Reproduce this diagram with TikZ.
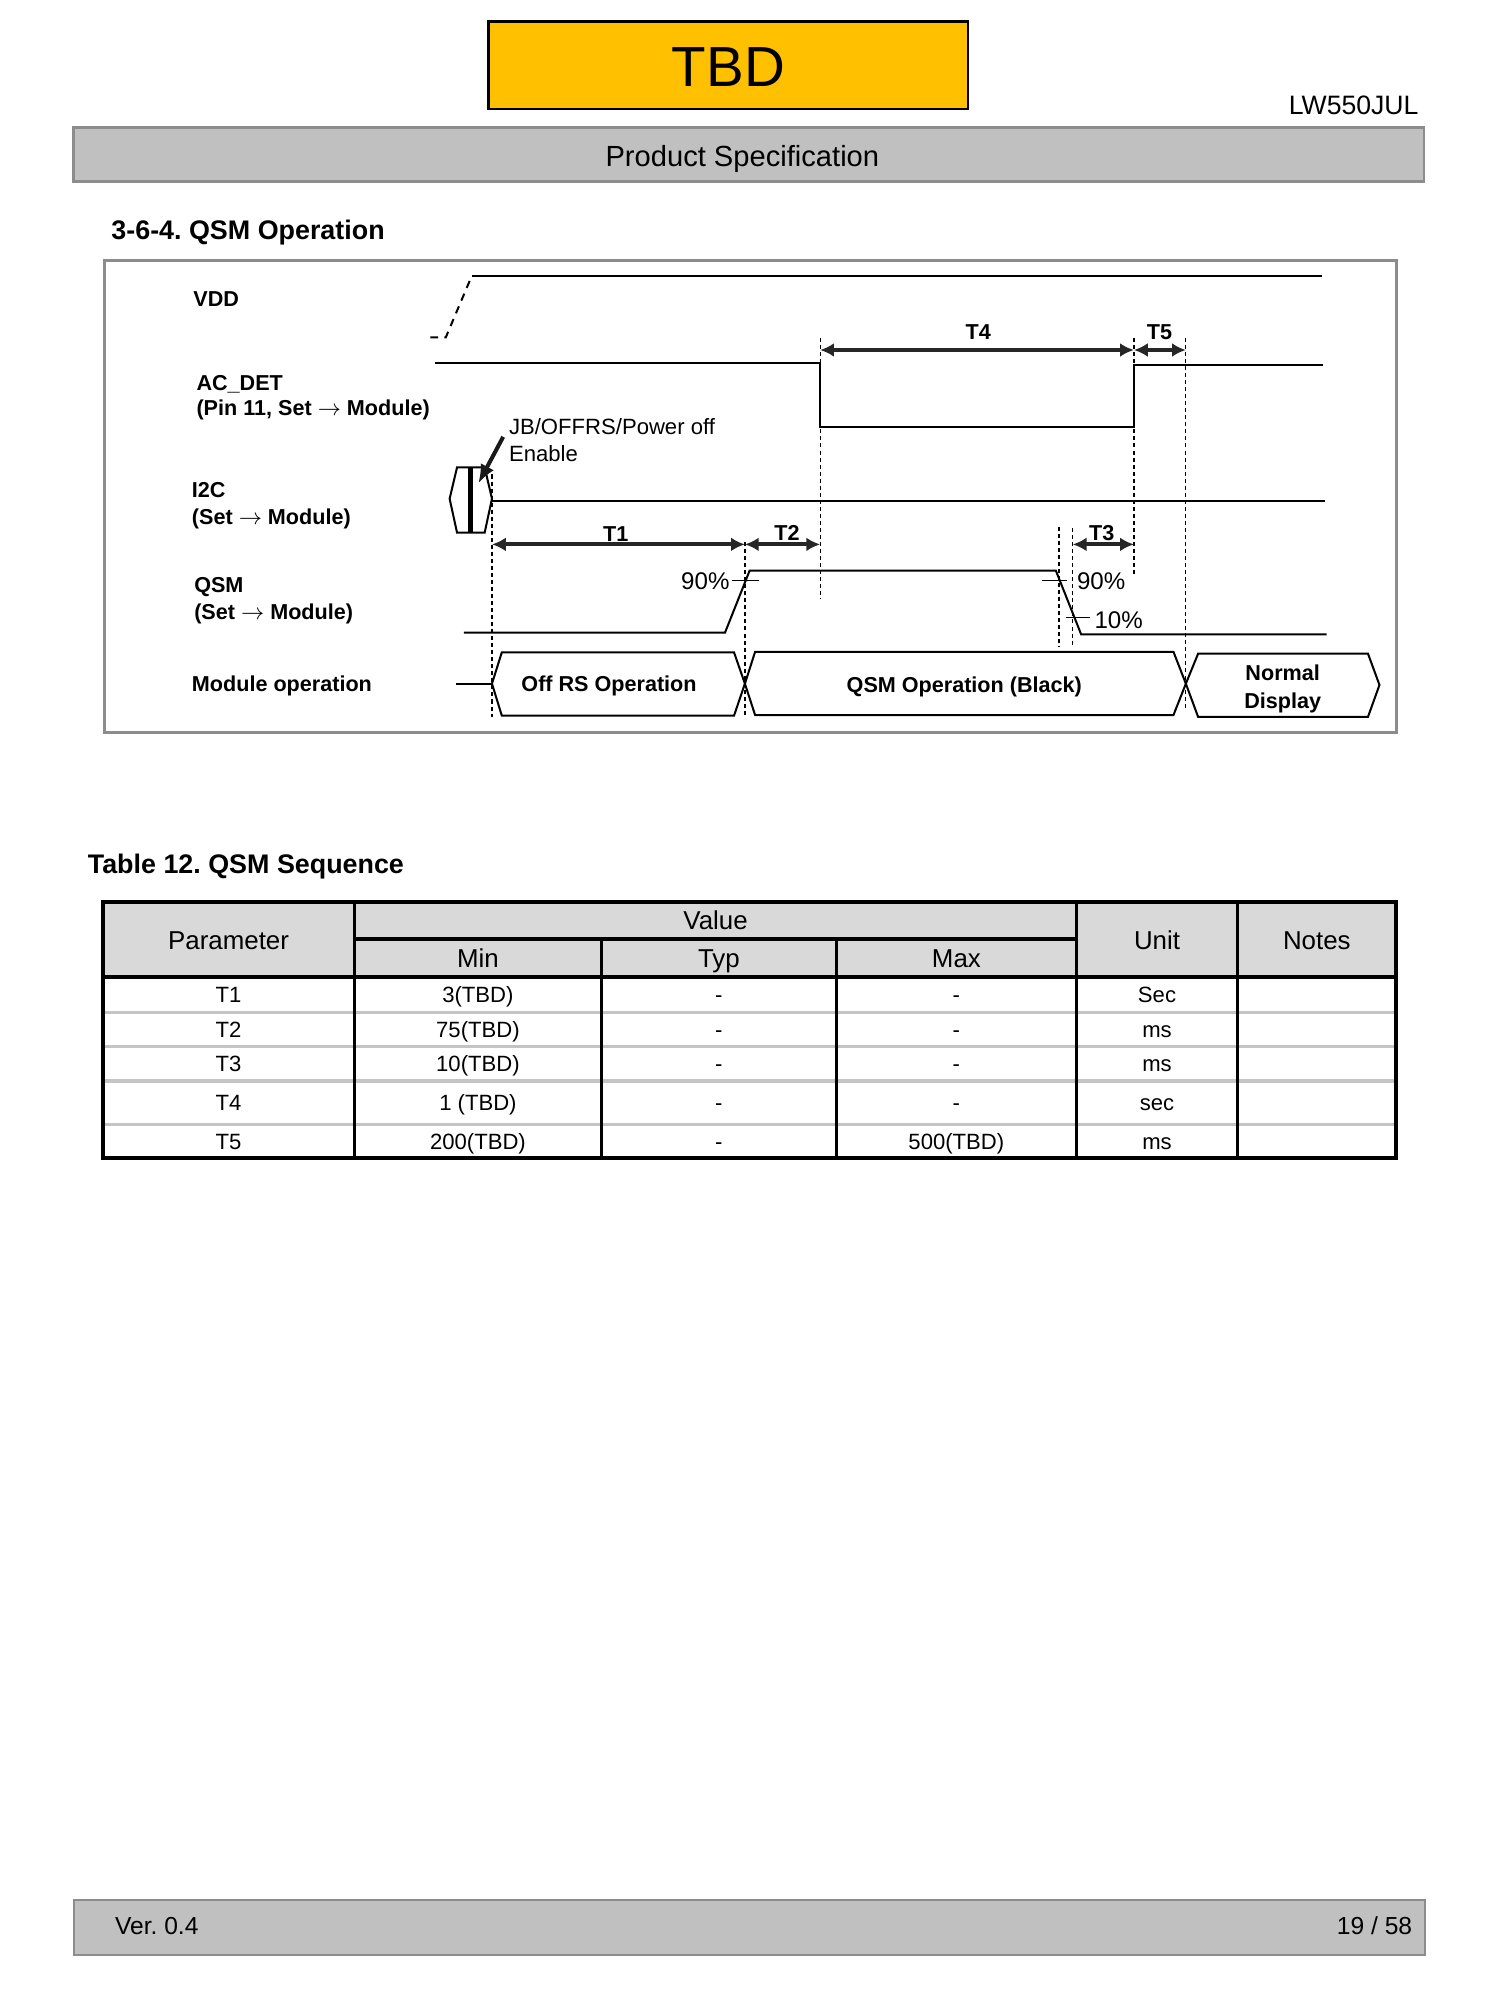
\documentclass[tikz,border=0pt]{standalone}
\usepackage{fontspec}
\setmainfont{Liberation Sans}
\usetikzlibrary{arrows.meta}
\definecolor{tbdgold}{HTML}{FFC000}
\definecolor{barfill}{HTML}{C0C0C0}
\definecolor{barline}{HTML}{8C8C8C}
\definecolor{headfill}{HTML}{D9D9D9}
\definecolor{rowline}{HTML}{C4C4C4}
\newcommand{\setsz}[1]{\fontsize{#1}{#1}\selectfont}
\frenchspacing

\begin{document}
\begin{tikzpicture}[>=Latex, x=0.017857cm, y=-0.017857cm,
  sig/.style={line width=0.8pt},
  guide/.style={line width=0.5pt, dash pattern=on 1.6pt off 1.2pt},
  span/.style={<->, >={Latex[length=5.5pt,width=5.5pt]}, line width=1.6pt, black!85},
  lbl/.style={anchor=base west, inner sep=0pt, font=\bfseries\setsz{8.6}},
  tlbl/.style={anchor=base, inner sep=0pt, font=\bfseries\setsz{8.6}},
  pct/.style={inner sep=0pt, font=\setsz{9.6}},
  cell/.style={anchor=base, inner sep=0pt, font=\setsz{8.8}},
  head/.style={anchor=base, inner sep=0pt, font=\setsz{10.3}}]
  \useasboundingbox (0,0) rectangle (1176,1568);
  \fill[white] (0,0) rectangle (1176,1568);

  \draw[line width=1pt, fill=tbdgold] (383,17) rectangle (759,85.5);
  \node[anchor=base, inner sep=0pt, font=\setsz{22.5}] (tbd) at (571,68) {TBD};
  \node[anchor=base east, inner sep=0pt, font=\setsz{10.6}] (model) at (1112.5,90) {LW550JUL};
  \draw[barline, line width=1pt, fill=barfill] (57.5,100) rectangle (1116.5,142.4);
  \node[anchor=base, inner sep=0pt, font=\setsz{11.6}] (spec) at (582,130.7) {Product Specification};
  \node[anchor=base west, inner sep=0pt, font=\bfseries\setsz{10.7}] (section) at (87,188) {3-6-4. QSM Operation};

  \draw[barline, line width=1.2pt] (82,204) rectangle (1094.5,574.4);
  \node[lbl] (vdd) at (151.2,240.4) {VDD};
  \node[lbl] (acdet) at (153.7,305.8) {AC\_DET};
  \node[lbl] (acdetsub) at (153.7,326) {(Pin 11, Set $\rightarrow$ Module)};
  \node[lbl] (itc) at (150.1,390) {I2C};
  \node[lbl] (itcsub) at (150.1,411) {(Set $\rightarrow$ Module)};
  \node[lbl] (qsm) at (151.9,464.7) {QSM};
  \node[lbl] (qsmsub) at (151.9,486) {(Set $\rightarrow$ Module)};
  \node[lbl] (modop) at (150.1,542.3) {Module operation};

  \draw[sig, dash pattern=on 3pt off 2.5pt] (337.5,264.5) -- (349.5,264.5) -- (370,216);
  \draw[sig] (370,216) -- (1036.5,216);
  \draw[sig] (341,284.5) -- (643,284.5) -- (643,334.5) -- (889,334.5) -- (889,286.2) -- (1037.5,286.2);
  \draw[sig] (352.5,391) -- (358.3,366.5) -- (380,366.5) -- (385.7,391) -- (380,417.5) -- (358.3,417.5) -- cycle;
  \draw[line width=1.8pt] (369,366.5) -- (369,417.5);
  \draw[sig] (385.7,392.5) -- (1038.5,392.5);
  \draw[sig] (363.6,496) -- (568.4,496) -- (587.7,447.4) -- (827.8,447.4) -- (847.6,497.3) -- (1040,497.3);
  \draw[line width=0.6pt] (573.7,455.2) -- (594.7,455.2);
  \draw[line width=0.6pt] (817,455.2) -- (836.7,455.2);
  \draw[line width=0.6pt] (835.8,484.3) -- (854.6,484.3);

  \draw[guide] (385.7,372) -- (385.7,562);
  \draw[guide] (584,425) -- (584,562);
  \draw[guide] (643,265) -- (643,469);
  \draw[guide] (889,265) -- (889,450);
  \draw[guide] (929.7,265) -- (929.7,556);
  \draw[guide] (830.3,413) -- (830.3,507);
  \draw[guide] (841,414) -- (841,507);

  \draw[span] (643,274.4) -- (889,274.4);
  \draw[span] (889,274.4) -- (929.7,274.4);
  \draw[span] (385.7,426.8) -- (584,426.8);
  \draw[span] (584,426.8) -- (643,426.8);
  \draw[span] (841,426.8) -- (889,426.8);
  \node[tlbl] (tfour) at (767,266) {T4};
  \node[tlbl] (tfive) at (909,266) {T5};
  \node[tlbl] (tone) at (482.7,424.7) {T1};
  \node[tlbl] (ttwo) at (617,424) {T2};
  \node[tlbl] (tthree) at (863.7,424) {T3};

  \node[anchor=base west, inner sep=0pt, font=\setsz{8.8}] (jb) at (398.7,340.6) {JB/OFFRS/Power off};
  \node[anchor=base west, inner sep=0pt, font=\setsz{8.8}] (jbsub) at (398.7,361.6) {Enable};
  \draw[->, >={Latex[length=7.5pt,width=6pt]}, line width=1.6pt, black!90] (394.5,342.5) -- (375,379);

  \node[pct, anchor=base east] (riseninety) at (572.3,462) {90\%};
  \node[pct, anchor=base west] (fallninety) at (844,462) {90\%};
  \node[pct, anchor=base west] (fallten) at (857.7,492.6) {10\%};

  \draw[sig] (357.6,536) -- (385.7,536);
  \draw[sig] (385.7,536) -- (393.4,511.5) -- (575.5,511.5) -- (584,536) -- (575.5,561) -- (393.4,561) -- cycle;
  \draw[sig] (584,536) -- (592,511) -- (920,511) -- (929.7,536) -- (920,560.6) -- (592,560.6) -- cycle;
  \draw[sig] (929.7,536) -- (939.3,512.5) -- (1072.5,512.5) -- (1081.5,537) -- (1072.5,562) -- (939.3,562) -- cycle;
  \node[tlbl] (offrs) at (477.5,542.3) {Off RS Operation};
  \node[tlbl] (qsmop) at (756,543) {QSM Operation (Black)};
  \node[tlbl] (normal) at (1005.6,533.2) {Normal};
  \node[tlbl] (display) at (1005.6,555.3) {Display};

  \node[anchor=base west, inner sep=0pt, font=\bfseries\setsz{10.7}] (tabtitle) at (68.5,684.7) {Table 12. QSM Sequence};
  \fill[headfill] (80.5,707) rectangle (1094.5,765.7);
  \draw[rowline, line width=1.4pt] (80.5,793.7) -- (1094.5,793.7);
  \draw[rowline, line width=1.4pt] (80.5,820.6) -- (1094.5,820.6);
  \draw[rowline, line width=1.4pt] (80.5,847.5) -- (1094.5,847.5);
  \draw[rowline, line width=1.4pt] (80.5,881.5) -- (1094.5,881.5);
  \draw[line width=1.4pt] (278,736.2) -- (844,736.2);
  \draw[line width=1.6pt] (80.5,765.7) -- (1094.5,765.7);
  \draw[line width=1.2pt] (278,707) -- (278,908);
  \draw[line width=1.2pt] (471.5,736.2) -- (471.5,908);
  \draw[line width=1.2pt] (655.7,736.2) -- (655.7,908);
  \draw[line width=1.2pt] (844,707) -- (844,908);
  \draw[line width=1.2pt] (970.3,707) -- (970.3,908);
  \draw[line width=1.6pt] (80.5,707) rectangle (1094.5,908);

  \node[head] (hparam) at (179.2,744.5) {Parameter};
  \node[head] (hvalue) at (561,728.5) {Value};
  \node[head] (hmin) at (374.7,758.5) {Min};
  \node[head] (htyp) at (563.6,758.5) {Typ};
  \node[head] (hmax) at (749.8,758.5) {Max};
  \node[head] (hunit) at (907.1,744.5) {Unit};
  \node[head] (hnotes) at (1032.4,744.5) {Notes};

  \node[cell] (pone) at (179.2,786) {T1};
  \node[cell] (minone) at (374.7,786) {3(TBD)};
  \node[cell] (typone) at (563.6,786) {-};
  \node[cell] (maxone) at (749.8,786) {-};
  \node[cell] (unitone) at (907.1,786) {Sec};
  \node[cell] (ptwo) at (179.2,813.4) {T2};
  \node[cell] (mintwo) at (374.7,813.4) {75(TBD)};
  \node[cell] (typtwo) at (563.6,813.4) {-};
  \node[cell] (maxtwo) at (749.8,813.4) {-};
  \node[cell] (unittwo) at (907.1,813.4) {ms};
  \node[cell] (pthree) at (179.2,840.4) {T3};
  \node[cell] (minthree) at (374.7,840.4) {10(TBD)};
  \node[cell] (typthree) at (563.6,840.4) {-};
  \node[cell] (maxthree) at (749.8,840.4) {-};
  \node[cell] (unitthree) at (907.1,840.4) {ms};
  \node[cell] (pfour) at (179.2,871) {T4};
  \node[cell] (minfour) at (374.7,871) {1 (TBD)};
  \node[cell] (typfour) at (563.6,871) {-};
  \node[cell] (maxfour) at (749.8,871) {-};
  \node[cell] (unitfour) at (907.1,871) {sec};
  \node[cell] (pfive) at (179.2,901) {T5};
  \node[cell] (minfive) at (374.7,901) {200(TBD)};
  \node[cell] (typfive) at (563.6,901) {-};
  \node[cell] (maxfive) at (749.8,901) {500(TBD)};
  \node[cell] (unitfive) at (907.1,901) {ms};

  \draw[barline, line width=1pt, fill=barfill] (58,1489.6) rectangle (1117,1532.7);
  \node[anchor=base west, inner sep=0pt, font=\setsz{9.8}] (version) at (89.8,1517) {Ver. 0.4};
  \node[anchor=base east, inner sep=0pt, font=\setsz{9.8}] (page) at (1107.5,1517) {19 / 58};
\end{tikzpicture}
\end{document}
